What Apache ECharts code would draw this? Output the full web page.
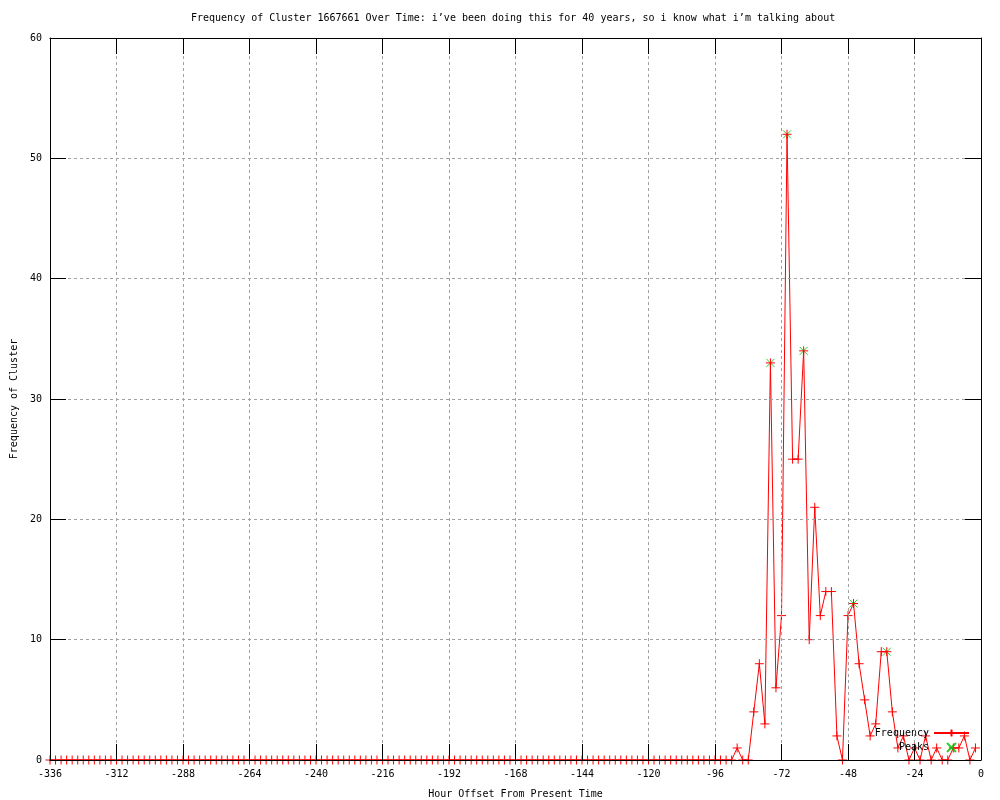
<!DOCTYPE html>
<html>
<head>
<meta charset="utf-8">
<script src="https://cdn.jsdelivr.net/npm/echarts@6/dist/echarts.min.js"></script>
<style>html,body{margin:0;padding:0;background:#fff;}#c{width:1000px;height:800px;}</style>
</head>
<body>
<div id="c"></div>
<script>
// Hour offsets: first sample and spacing (hours)
const firstHour = -336;
const stepHours = 2;
// Frequency per 2-hour bin, from -336 to -2
const freqValues = [
  0,0,0,0,0,0,0,0,0,0,0,0,0,0,0,0,0,0,0,0,
  0,0,0,0,0,0,0,0,0,0,0,0,0,0,0,0,0,0,0,0,
  0,0,0,0,0,0,0,0,0,0,0,0,0,0,0,0,0,0,0,0,
  0,0,0,0,0,0,0,0,0,0,0,0,0,0,0,0,0,0,0,0,
  0,0,0,0,0,0,0,0,0,0,0,0,0,0,0,0,0,0,0,0,
  0,0,0,0,0,0,0,0,0,0,0,0,0,0,0,0,0,0,0,0,
  0,0,0,0,
  1,0,0,4,8,3,33,6,12,52,
  25,25,34,10,21,12,14,14,2,0,
  12,13,8,5,2,3,9,9,4,1,
  2,0,1,0,2,0,1,0,0,1,
  1,2,0,1
];
const peakHours = [-76, -70, -64, -46, -34];
const peakValues = [33, 52, 34, 13, 9];
const xTickInterval = 24;
const yTicks = [0, 10, 20, 30, 40, 50, 60];

const freqData = freqValues.map((v, i) => [firstHour + i * stepHours, v]);
const peakData = peakHours.map((h, i) => [h, peakValues[i]]);

const FONT = 'DejaVu Sans Mono';
const plusPath = 'path://M0,4.5L9,4.5M4.5,0L4.5,9';
const crossPath = 'path://M0,0L8,8M0,8L8,0';

const chart = echarts.init(document.getElementById('c'), null, {renderer: 'canvas'});
const gridLine = {show: true, lineStyle: {color: '#a0a0a0', type: [3, 3], width: 1}};
const axisLine = {show: true, onZero: false, lineStyle: {color: '#000', width: 1}};
chart.setOption({
  animation: false,
  backgroundColor: '#fff',
  title: {
    text: 'Frequency of Cluster 1667661 Over Time: i\u2019ve been doing this for 40 years, so i know what i\u2019m talking about',
    left: 191, top: 13, padding: 0,
    textStyle: {fontFamily: FONT, fontSize: 10, fontWeight: 'normal', color: '#000'}
  },
  grid: {left: 50, right: 19, top: 38, bottom: 40, containLabel: false, outerBoundsMode: 'none'},
  legend: {
    orient: 'vertical', right: 30, top: 728, align: 'right', padding: 0,
    itemWidth: 35, itemHeight: 9, itemGap: 4,
    textStyle: {fontFamily: FONT, fontSize: 10, color: '#000'},
    data: ['Frequency', 'Peaks']
  },
  xAxis: [{
    type: 'value', min: -336, max: 0, interval: xTickInterval, position: 'bottom', z: 5,
    name: 'Hour Offset From Present Time', nameLocation: 'middle', nameGap: 29,
    nameTextStyle: {fontFamily: FONT, fontSize: 10, color: '#000'},
    axisLine: axisLine,
    axisTick: {show: true, inside: true, length: 16, lineStyle: {color: '#000'}},
    axisLabel: {fontFamily: FONT, fontSize: 10, color: '#000', margin: 9},
    splitLine: gridLine
  }, {
    type: 'value', min: -336, max: 0, interval: xTickInterval, position: 'top', z: 5,
    axisLine: axisLine,
    axisTick: {show: true, inside: true, length: 16, lineStyle: {color: '#000'}},
    axisLabel: {show: false}, splitLine: {show: false}
  }],
  yAxis: [{
    type: 'value', min: yTicks[0], max: yTicks[yTicks.length - 1], interval: 10, position: 'left', z: 5,
    name: 'Frequency of Cluster', nameLocation: 'middle', nameGap: 31,
    nameTextStyle: {fontFamily: FONT, fontSize: 10, color: '#000'},
    axisLine: axisLine,
    axisTick: {show: true, inside: true, length: 16, lineStyle: {color: '#000'}},
    axisLabel: {fontFamily: FONT, fontSize: 10, color: '#000', margin: 8},
    splitLine: gridLine
  }, {
    type: 'value', min: yTicks[0], max: yTicks[yTicks.length - 1], interval: 10, position: 'right', z: 5,
    axisLine: axisLine,
    axisTick: {show: true, inside: true, length: 16, lineStyle: {color: '#000'}},
    axisLabel: {show: false}, splitLine: {show: false}
  }],
  series: [{
    name: 'Peaks', type: 'scatter', xAxisIndex: 0, yAxisIndex: 0, z: 2,
    data: peakData, symbol: crossPath, symbolSize: 8,
    itemStyle: {color: '#00c000', borderColor: '#00c000', borderWidth: 1},
    clip: false
  }, {
    name: 'Frequency', type: 'line', xAxisIndex: 0, yAxisIndex: 0, z: 3,
    data: freqData, symbol: plusPath, symbolSize: 9, showSymbol: true,
    lineStyle: {color: '#ff0000', width: 1},
    itemStyle: {color: '#ff0000', borderColor: '#ff0000', borderWidth: 1},
    clip: false
  }]
});
</script>
</body>
</html>
